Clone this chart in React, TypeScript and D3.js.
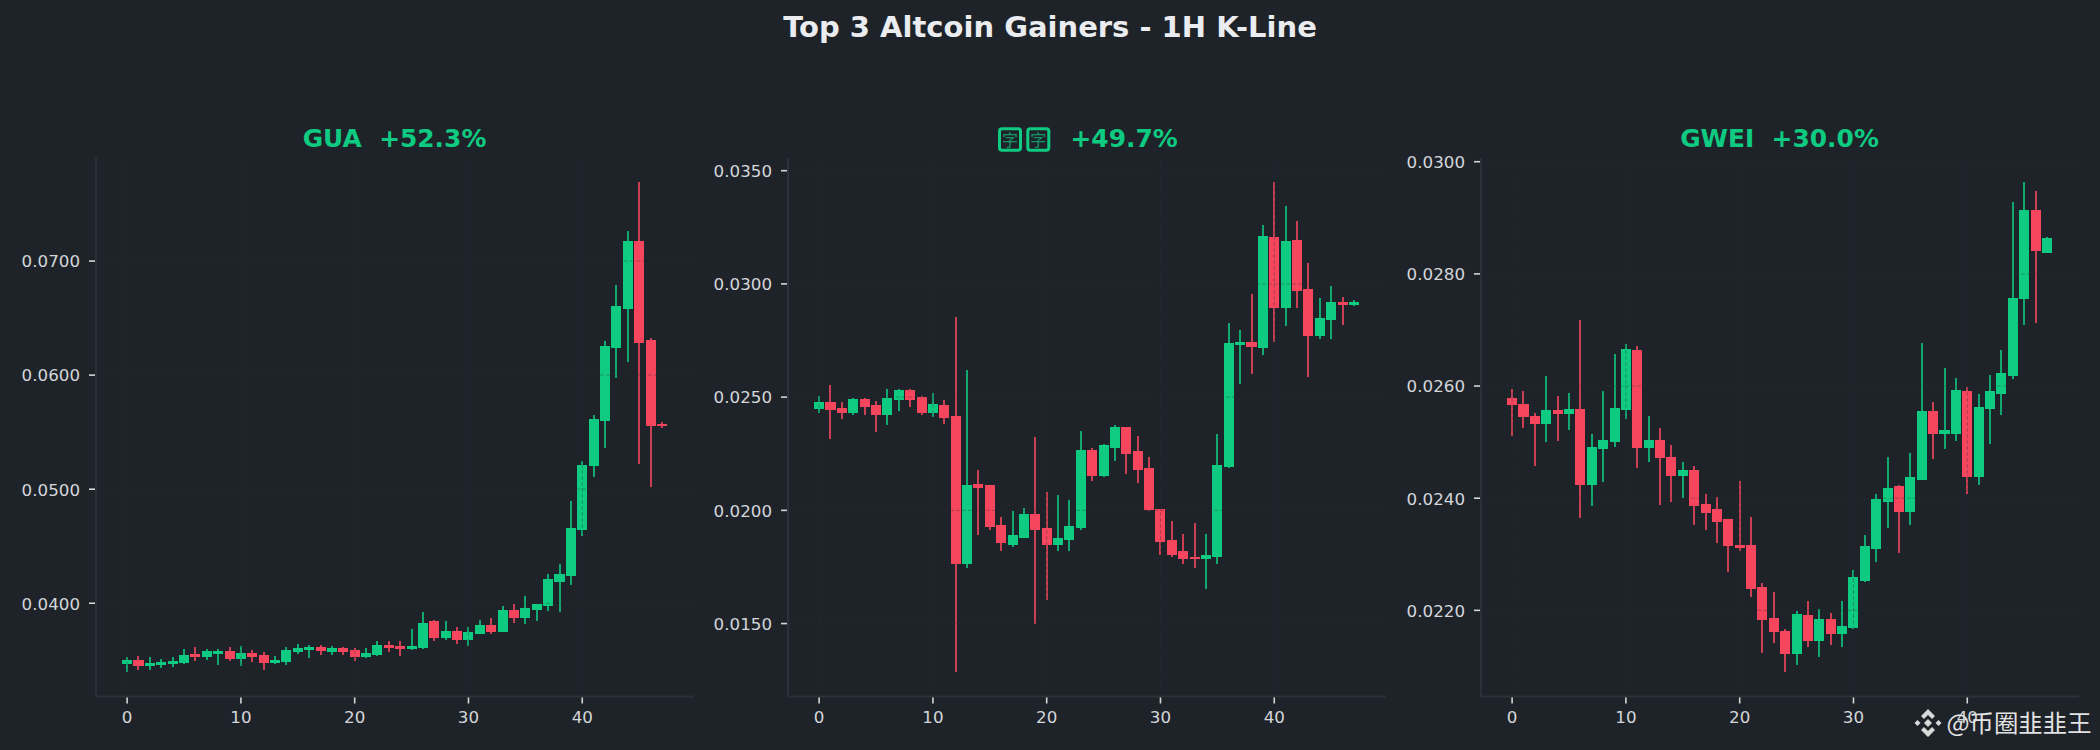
import * as d3 from 'd3';
import {useEffect, useRef} from "react";
import * as React from "react";

const guaOpen = [.03464,.03499,.03446,.03455,.03464,.03472,.03551,.03525,.03551,.03577,.03507,.03560,.03542,.03472,.03481,.03569,.03586,.03612,.03569,.03604,.03586,.03525,.03542,.03630,.03621,.03595,.03604,.03840,.03692,.03761,.03682,.03734,.03806,.03744,.03938,.03875,.03945,.03972,.04190,.04242,.04644,.05204,.05599,.06239,.06578,.07173,.06308,.05571];
const guaHigh = [.03525,.03534,.03525,.03507,.03525,.03595,.03612,.03595,.03595,.03612,.03621,.03586,.03569,.03534,.03612,.03639,.03630,.03630,.03621,.03612,.03604,.03604,.03665,.03665,.03665,.03770,.03919,.03849,.03841,.03789,.03789,.03855,.03875,.03979,.03990,.04062,.03997,.04260,.04343,.04896,.05246,.05647,.06298,.06789,.07263,.07689,.06325,.05592];
const guaLow = [.03397,.03414,.03414,.03432,.03437,.03464,.03490,.03499,.03455,.03490,.03446,.03481,.03411,.03464,.03455,.03551,.03516,.03542,.03542,.03542,.03490,.03516,.03534,.03569,.03534,.03586,.03595,.03665,.03682,.03647,.03623,.03730,.03734,.03744,.03827,.03817,.03848,.03931,.03927,.04156,.04588,.05107,.05363,.05976,.06114,.05221,.05021,.05540];
const guaClose = [.03499,.03446,.03472,.03481,.03490,.03542,.03525,.03577,.03577,.03507,.03560,.03525,.03472,.03499,.03586,.03604,.03612,.03577,.03604,.03569,.03525,.03560,.03630,.03604,.03595,.03621,.03831,.03691,.03761,.03682,.03751,.03806,.03751,.03945,.03875,.03962,.03990,.04215,.04260,.04661,.05215,.05616,.06256,.06606,.07173,.06280,.05557,.05550];

const boxOpen = [.02448,.02479,.02453,.02430,.02493,.02467,.02422,.02488,.02531,.02502,.02430,.02467,.02418,.01765,.02118,.02110,.01937,.01848,.01880,.01986,.01923,.01848,.01871,.01920,.02268,.02153,.02277,.02369,.02263,.02188,.02007,.01871,.01819,.01796,.01784,.01796,.02193,.02730,.02744,.02718,.03206,.02894,.03193,.02977,.02770,.02840,.02920,.02906];
const boxHigh = [.02505,.02554,.02479,.02497,.02497,.02484,.02537,.02537,.02537,.02505,.02519,.02488,.02854,.02620,.02179,.02113,.01969,.01998,.02012,.02326,.02082,.02070,.02044,.02352,.02277,.02291,.02378,.02369,.02329,.02237,.02007,.01951,.01897,.01946,.01894,.02338,.02829,.02796,.02955,.03260,.03448,.03343,.03277,.03092,.02937,.02990,.02943,.02927];
const boxLow = [.02429,.02317,.02404,.02422,.02422,.02347,.02378,.02439,.02456,.02422,.02413,.02382,.01286,.01744,.01889,.01915,.01819,.01840,.01876,.01497,.01606,.01819,.01819,.01915,.02131,.02148,.02220,.02162,.02122,.01997,.01805,.01793,.01765,.01747,.01652,.01765,.02188,.02559,.02603,.02686,.02744,.02814,.02894,.02589,.02756,.02756,.02819,.02902];
const boxClose = [.02479,.02444,.02430,.02493,.02456,.02422,.02497,.02531,.02488,.02430,.02470,.02409,.01765,.02113,.02099,.01927,.01854,.01889,.01986,.01915,.01848,.01880,.01929,.02268,.02153,.02287,.02369,.02251,.02179,.02000,.01862,.01805,.01784,.01784,.01805,.02202,.02739,.02744,.02721,.03211,.02894,.03188,.02969,.02770,.02850,.02920,.02906,.02920];

const gweiOpen = [.02578,.02568,.02547,.02533,.02558,.02551,.02559,.02423,.02488,.02500,.02558,.02665,.02490,.02504,.02474,.02440,.02451,.02389,.02380,.02362,.02317,.02316,.02241,.02186,.02163,.02122,.02192,.02145,.02185,.02158,.02168,.02253,.02310,.02394,.02421,.02376,.02433,.02556,.02514,.02515,.02592,.02437,.02559,.02586,.02618,.02755,.02914,.02838];
const gweiHigh = [.02595,.02592,.02552,.02618,.02582,.02588,.02717,.02514,.02592,.02657,.02675,.02672,.02547,.02525,.02495,.02465,.02457,.02408,.02403,.02362,.02430,.02366,.02249,.02232,.02166,.02199,.02216,.02202,.02195,.02216,.02272,.02334,.02408,.02474,.02424,.02481,.02677,.02572,.02632,.02615,.02599,.02585,.02620,.02665,.02929,.02963,.02947,.02865];
const gweiLow = [.02511,.02525,.02458,.02500,.02502,.02521,.02364,.02386,.02428,.02492,.02542,.02453,.02465,.02387,.02393,.02400,.02353,.02343,.02320,.02268,.02305,.02224,.02124,.02142,.02090,.02102,.02135,.02117,.02138,.02135,.02166,.02250,.02287,.02346,.02302,.02353,.02433,.02469,.02488,.02502,.02408,.02424,.02497,.02549,.02613,.02709,.02712,.02837];
const gweiClose = [.02566,.02545,.02533,.02558,.02551,.02559,.02423,.02492,.02504,.02561,.02666,.02490,.02504,.02471,.02440,.02451,.02386,.02374,.02357,.02314,.02312,.02238,.02182,.02161,.02122,.02193,.02145,.02185,.02158,.02172,.02259,.02314,.02398,.02419,.02376,.02437,.02556,.02514,.02521,.02593,.02437,.02563,.02592,.02623,.02757,.02914,.02840,.02864];

const xTicks = [0, 10, 20, 30, 40];
const guaTicks = [0.04, 0.05, 0.06, 0.07];
const boxTicks = [0.015, 0.02, 0.025, 0.03, 0.035];
const gweiTicks = [0.022, 0.024, 0.026, 0.028, 0.03];

const BG = "#1E2329";
const GREEN = "#0ECB81";
const RED = "#F6465D";
const SPINE = "#2B3139";
const TEXT = "#D4D6D9";
const FONT = "'DejaVu Sans', sans-serif";

const panels = [
    { left: 96, open: guaOpen, high: guaHigh, low: guaLow, close: guaClose, ticks: guaTicks },
    { left: 788, open: boxOpen, high: boxHigh, low: boxLow, close: boxClose, ticks: boxTicks },
    { left: 1481, open: gweiOpen, high: gweiHigh, low: gweiLow, close: gweiClose, ticks: gweiTicks },
];

const panelWidth = 598;
const top = 158;
const bottom = 696.5;

export default function App() {
    const svgRef = useRef<SVGSVGElement | null>(null);

    useEffect(() => {
        if (!svgRef.current) return;
        const svg = d3.select(svgRef.current);
        svg.selectAll("*").remove();

        svg.append("rect").attr("width", 2100).attr("height", 750).attr("fill", BG);

        svg.append("text")
            .attr("x", 1050)
            .attr("y", 37)
            .attr("text-anchor", "middle")
            .attr("fill", "#EAECEF")
            .attr("font-family", FONT)
            .attr("font-weight", "bold")
            .attr("font-size", 29)
            .text("Top 3 Altcoin Gainers - 1H K-Line");

        panels.forEach(p => {
            const g = svg.append("g");
            const candles = d3.range(p.open.length);

            const xScale = d3.scaleLinear()
                .domain([-2.735, 49.82])
                .range([p.left, p.left + panelWidth]);

            const lo = d3.min(p.low) as number;
            const hi = d3.max(p.high) as number;
            const pad = (hi - lo) * 0.05;
            const yScale = d3.scaleLinear()
                .domain([lo - pad, hi + pad])
                .range([bottom, top]);

            // wicks first, bodies on top
            g.selectAll(".wick")
                .data(candles)
                .enter()
                .append("line")
                .attr("x1", i => xScale(i))
                .attr("x2", i => xScale(i))
                .attr("y1", i => yScale(p.high[i]))
                .attr("y2", i => yScale(p.low[i]))
                .attr("stroke", i => p.close[i] >= p.open[i] ? GREEN : RED)
                .attr("stroke-width", 2)
                .attr("stroke-opacity", 0.8)
                .attr("shape-rendering", "crispEdges");

            const bandW = xScale(0.88) - xScale(0);
            g.selectAll(".body")
                .data(candles)
                .enter()
                .append("rect")
                .attr("x", i => xScale(i) - bandW / 2)
                .attr("width", bandW)
                .attr("y", i => yScale(Math.max(p.open[i], p.close[i])))
                .attr("height", i => Math.abs(yScale(p.open[i]) - yScale(p.close[i])))
                .attr("fill", i => p.close[i] >= p.open[i] ? GREEN : RED)
                .attr("shape-rendering", "crispEdges");

            // grid sits above the candles, very faint
            const grid = g.append("g")
                .attr("stroke", SPINE)
                .attr("stroke-opacity", 0.35)
                .attr("stroke-dasharray", "4,2");
            p.ticks.forEach(t => {
                grid.append("line")
                    .attr("x1", p.left).attr("x2", p.left + panelWidth)
                    .attr("y1", yScale(t)).attr("y2", yScale(t));
            });
            xTicks.forEach(t => {
                grid.append("line")
                    .attr("y1", top).attr("y2", bottom)
                    .attr("x1", xScale(t)).attr("x2", xScale(t));
            });

            const xAxis = g.append("g")
                .attr("transform", `translate(0,${bottom})`)
                .call(d3.axisBottom(xScale).offset(0).tickValues(xTicks).tickFormat(d3.format("d")).tickSize(7).tickSizeOuter(0).tickPadding(8));
            const yAxis = g.append("g")
                .attr("transform", `translate(${p.left},0)`)
                .call(d3.axisLeft(yScale).offset(0).tickValues(p.ticks).tickFormat(d3.format(".4f")).tickSize(7).tickSizeOuter(0).tickPadding(9));

            [xAxis, yAxis].forEach(a => {
                a.selectAll(".tick line").attr("stroke", TEXT).attr("stroke-width", 1.6);
                a.select(".domain").attr("stroke", SPINE).attr("stroke-width", 2).raise();
                a.selectAll("text")
                    .attr("fill", TEXT)
                    .attr("font-family", FONT)
                    .attr("font-size", 16.7);
            });
            yAxis.selectAll("text").attr("dy", "0.38em");
        });

        const panelTitle = (x: number, anchor: string, label: string) =>
            svg.append("text")
                .attr("x", x)
                .attr("y", 146.5)
                .attr("text-anchor", anchor)
                .attr("fill", GREEN)
                .attr("font-family", FONT)
                .attr("font-weight", "bold")
                .attr("font-size", 24.9)
                .style("white-space", "pre")
                .text(label);

        panelTitle(394.5, "middle", "GUA  +52.3%");
        panelTitle(1070.5, "start", "+49.7%");
        panelTitle(1779.5, "middle", "GWEI  +30.0%");

        // the middle coin's name came out as two boxed glyphs
        [998, 1026.3].forEach(x => {
            svg.append("rect")
                .attr("x", x + 1.5).attr("y", 128.8)
                .attr("width", 21).attr("height", 21.5).attr("rx", 2.5)
                .attr("fill", "none")
                .attr("stroke", GREEN)
                .attr("stroke-width", 3);
            svg.append("text")
                .attr("x", x + 12).attr("y", 146)
                .attr("text-anchor", "middle")
                .attr("fill", GREEN)
                .attr("fill-opacity", 0.7)
                .attr("font-family", "'Noto Sans CJK SC'")
                .attr("font-size", 16)
                .text("字");
        });

        // watermark, bottom right
        const mark = svg.append("g").attr("fill", "#D9D9D9");
        const diamond = (cx: number, cy: number, r: number) =>
            mark.append("path").attr("d", `M${cx},${cy - r}L${cx + r},${cy}L${cx},${cy + r}L${cx - r},${cy}Z`);
        diamond(1928, 723, 4);
        diamond(1917.5, 723, 3);
        diamond(1938.5, 723, 3);
        mark.append("path")
            .attr("d", "M1928,709L1935,716L1932,719L1928,715L1924,719L1921,716Z");
        mark.append("path")
            .attr("d", "M1928,737L1935,730L1932,727L1928,731L1924,727L1921,730Z");
        svg.append("text")
            .attr("x", 1946.5)
            .attr("y", 732)
            .attr("fill", "#E2E2E2")
            .attr("font-family", "'Noto Sans CJK SC'")
            .attr("font-size", 24.4)
            .text("@币圈韭韭王");
    }, []);

    return <svg ref={svgRef} width={2100} height={750} style={{ position: "absolute", left: 0, top: 0, display: "block" }} />;
}
